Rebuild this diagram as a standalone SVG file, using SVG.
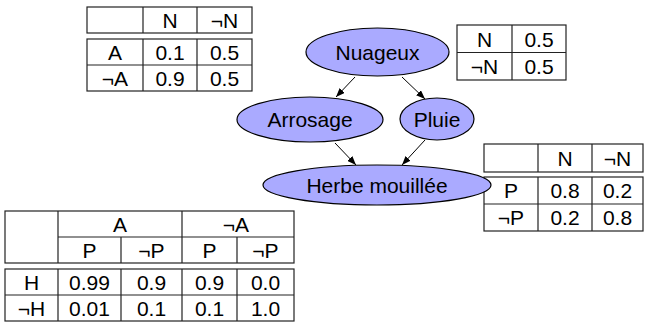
<svg xmlns="http://www.w3.org/2000/svg" width="646" height="325" viewBox="0 0 646 325">
<style>
text{font-family:"Liberation Sans",Arial,sans-serif;font-size:21px;fill:#000;text-anchor:middle}
.box{fill:#fff;stroke:#222;stroke-width:1.2}
.ln{stroke:#222;stroke-width:1.2;fill:none}
.node ellipse{fill:#aaaaff;stroke:#000;stroke-width:1.2}
.edge{stroke:#000;stroke-width:1;fill:none;marker-end:url(#ah)}
</style>
<defs>
<marker id="ah" markerUnits="userSpaceOnUse" markerWidth="9" markerHeight="7" refX="9" refY="3.5" orient="auto">
<path d="M0,0 L9,3.5 L0,7 z" fill="#000"/>
</marker>
</defs>

<g id="table-arrosage">
<rect class="box" x="87" y="7" width="165" height="26"/>
<path class="ln" d="M143,7V33M197,7V33"/>
<rect class="box" x="87" y="39" width="165" height="52"/>
<path class="ln" d="M87,65H252M143,39V91M197,39V91"/>
<text x="170" y="27.5">N</text><text x="224.5" y="27.5">¬N</text>
<text x="115" y="59.5">A</text><text x="170" y="59.5">0.1</text><text x="224.5" y="59.5">0.5</text>
<text x="115" y="85.5">¬A</text><text x="170" y="85.5">0.9</text><text x="224.5" y="85.5">0.5</text>
</g>

<g id="table-nuageux">
<rect class="box" x="457" y="25" width="109" height="55"/>
<path class="ln" d="M457,52.5H566M512,25V80"/>
<text x="484.5" y="46.5">N</text><text x="539" y="46.5">0.5</text>
<text x="484.5" y="73.5">¬N</text><text x="539" y="73.5">0.5</text>
</g>

<g id="table-pluie">
<rect class="box" x="484" y="144" width="159" height="28"/>
<path class="ln" d="M538,144V172M592,144V172"/>
<rect class="box" x="484" y="177" width="159" height="54"/>
<path class="ln" d="M484,204H643M538,177V231M592,177V231"/>
<text x="565" y="165.5">N</text><text x="617.5" y="165.5">¬N</text>
<text x="511" y="198">P</text><text x="565" y="198">0.8</text><text x="617.5" y="198">0.2</text>
<text x="511" y="225">¬P</text><text x="565" y="225">0.2</text><text x="617.5" y="225">0.8</text>
</g>

<g id="table-herbe">
<rect class="box" x="5" y="211" width="289" height="52"/>
<path class="ln" d="M58,237H294M58,211V263M182,211V263M121,237V263M237,237V263"/>
<rect class="box" x="5" y="269" width="289" height="52"/>
<path class="ln" d="M5,295H294M58,269V321M121,269V321M182,269V321M237,269V321"/>
<text x="120" y="231.5">A</text><text x="236" y="231.5">¬A</text>
<text x="89.5" y="257.5">P</text><text x="151.5" y="257.5">¬P</text><text x="209.5" y="257.5">P</text><text x="265.5" y="257.5">¬P</text>
<text x="31.5" y="289.5">H</text><text x="89.5" y="289.5">0.99</text><text x="151.5" y="289.5">0.9</text><text x="209.5" y="289.5">0.9</text><text x="265.5" y="289.5">0.0</text>
<text x="31.5" y="315.5">¬H</text><text x="89.5" y="315.5">0.01</text><text x="151.5" y="315.5">0.1</text><text x="209.5" y="315.5">0.1</text><text x="265.5" y="315.5">1.0</text>
</g>

<g id="connectors">
<line class="edge" x1="355" y1="77" x2="336" y2="97"/>
<line class="edge" x1="402" y1="77" x2="425" y2="99"/>
<line class="edge" x1="335" y1="143" x2="356" y2="165"/>
<line class="edge" x1="425" y1="140" x2="402" y2="165"/>
</g>

<g id="nuageux" class="node">
<ellipse cx="377.5" cy="52" rx="71.5" ry="24"/>
<text x="377.5" y="59.5">Nuageux</text>
</g>
<g id="arrosage" class="node">
<ellipse cx="310" cy="119.5" rx="73" ry="22.5"/>
<text x="310" y="127">Arrosage</text>
</g>
<g id="pluie" class="node">
<ellipse cx="437" cy="119" rx="37" ry="21"/>
<text x="437" y="126.5">Pluie</text>
</g>
<g id="herbe" class="node">
<ellipse cx="377" cy="185" rx="114" ry="20"/>
<text x="377" y="192.5">Herbe mouillée</text>
</g>
</svg>
